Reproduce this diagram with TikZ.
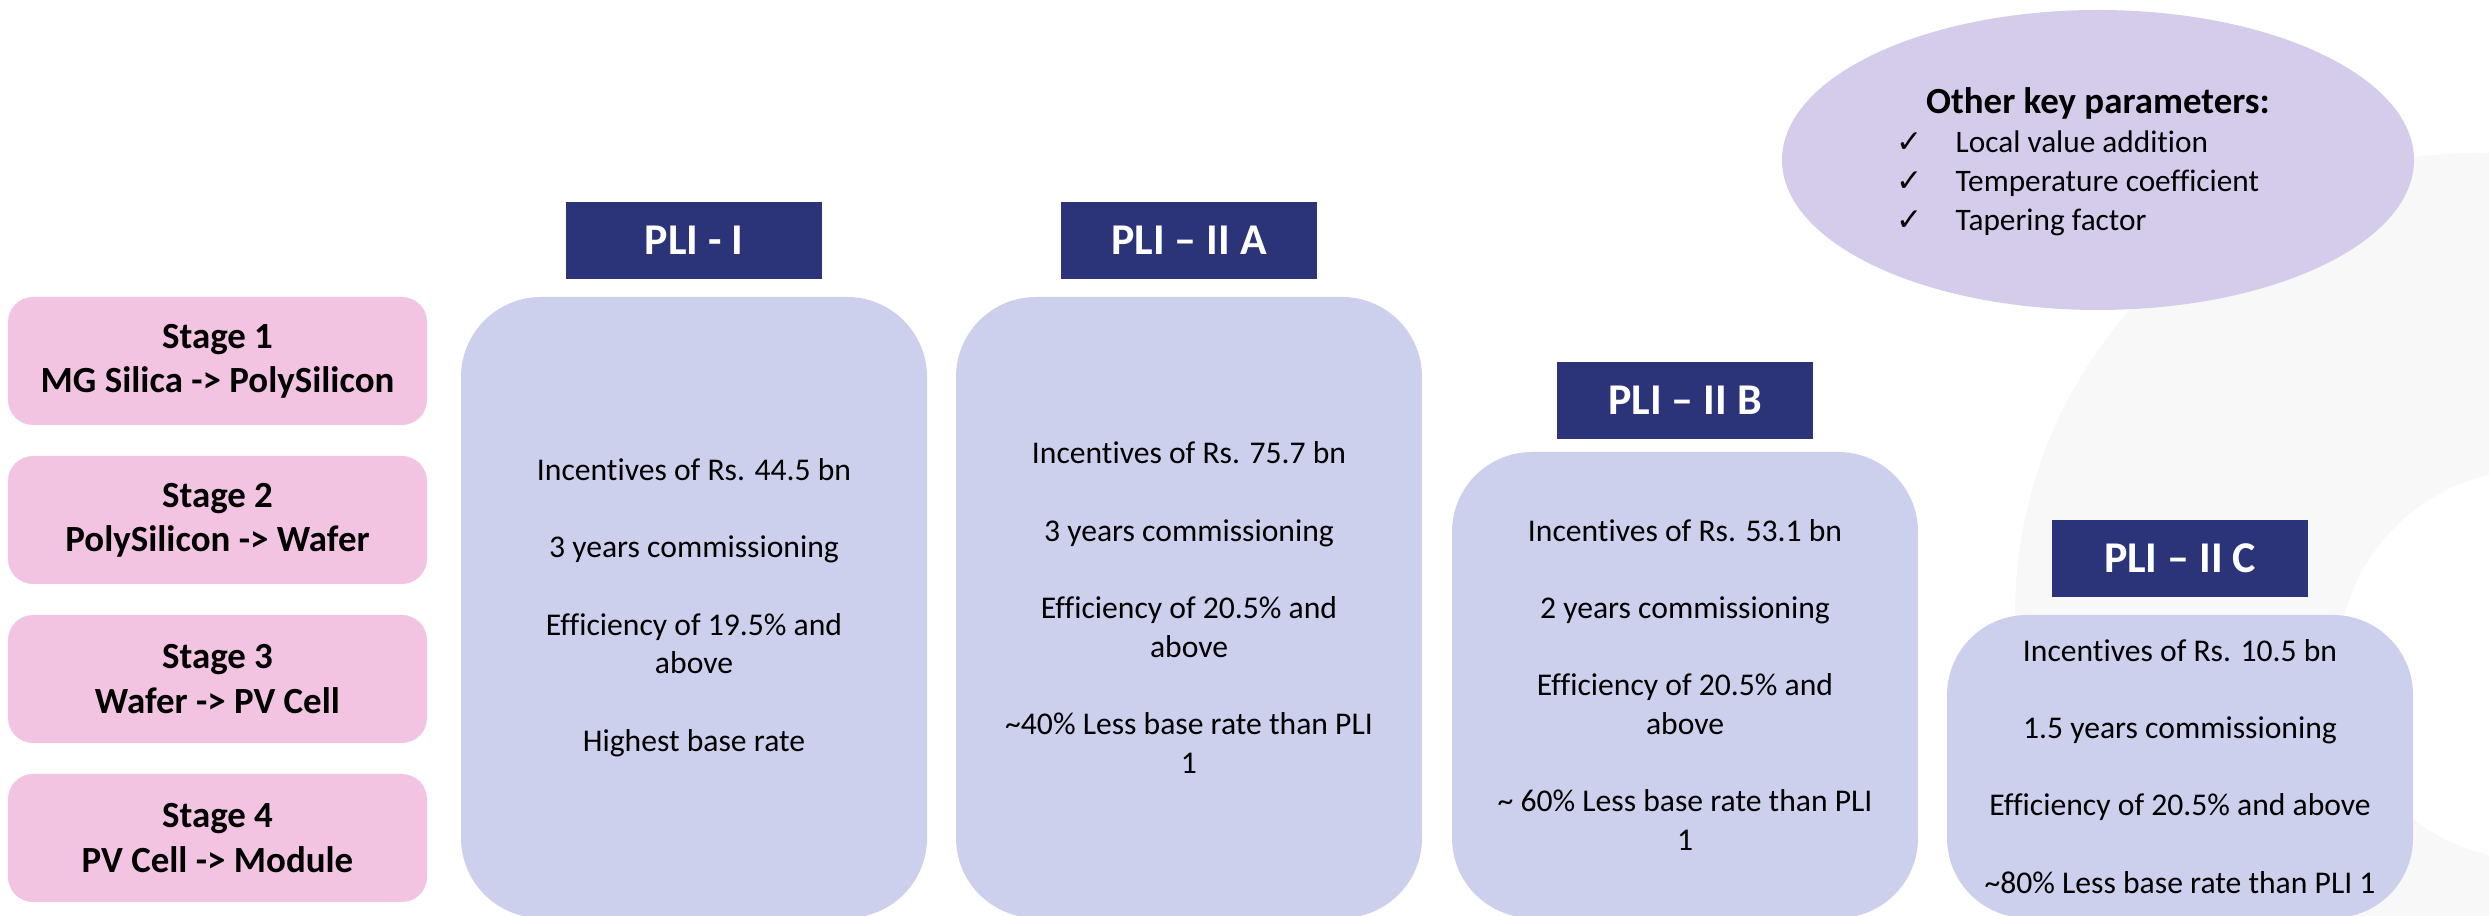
\documentclass[tikz,border=0pt]{standalone}
\usepackage{fontspec}
\setmainfont{Carlito}[Ligatures={TeX,CommonOff}]
\newfontfamily\symfont{DejaVu Sans}
\usepackage{xcolor}
\usetikzlibrary{positioning, shapes.geometric}
\definecolor{stagepink}{RGB}{242,196,226}
\definecolor{plilav}{RGB}{204,208,236}
\definecolor{plinavy}{RGB}{43,52,120}
\definecolor{keylilac}{RGB}{213,204,236}
\definecolor{bgring}{RGB}{248,248,248}
\newcommand{\chk}{\makebox[0.59cm][l]{{\symfont\char"2713}}}
\newcommand{\pgap}{\\[11pt]}

\begin{document}
\begin{tikzpicture}[
    stagebox/.style={fill=stagepink, rounded corners=0.25cm, minimum width=4.19cm,
        minimum height=1.28cm, inner sep=0pt, align=center,
        font=\fontsize{10.5}{12.6}\selectfont\bfseries},
    plibox/.style={fill=plilav, rounded corners=0.8cm, minimum width=4.66cm,
        inner sep=0pt, align=center, font=\fontsize{9}{11}\selectfont},
    plihead/.style={fill=plinavy, text=white, minimum width=2.56cm,
        minimum height=0.77cm, inner sep=0pt,
        font=\fontsize{12.5}{15}\selectfont\bfseries},
]
\useasboundingbox (0,0) rectangle (24.89,9.16);
\clip (0,0) rectangle (24.89,9.16);

% faint ring in the background
\fill[bgring] (24.76,3.02) circle (4.61);
\fill[white] (25.33,2.51) circle (1.95);

% value chain stages
\foreach \i/\txt in {1/{MG Silica -> PolySilicon}, 2/{PolySilicon -> Wafer},
                     3/{Wafer -> PV Cell}, 4/{PV Cell -> Module}}{
    \pgfmathsetmacro{\ypos}{5.55-(\i-1)*1.59}
    \node[stagebox] (stage\i) at (2.175,\ypos) {Stage \i\\\txt};
}

% PLI tranches
\node[plibox, minimum height=6.21cm] (boxI) at (6.94,3.085)
    {Incentives of Rs. 44.5 bn\pgap
     3 years commissioning\pgap
     Efficiency of 19.5\% and\\above\pgap
     Highest base rate};
\node[plihead, above=0.17cm of boxI] (headI) {PLI - I};

\node[plibox, minimum height=6.21cm] (boxIIA) at (11.89,3.085)
    {Incentives of Rs. 75.7 bn\pgap
     3 years commissioning\pgap
     Efficiency of 20.5\% and\\above\pgap
     \textasciitilde40\% Less base rate than PLI\\1};
\node[plihead, above=0.17cm of boxIIA] (headIIA) {PLI -- II A};

\node[plibox, minimum height=4.66cm] (boxIIB) at (16.85,2.31)
    {Incentives of Rs. 53.1 bn\pgap
     2 years commissioning\pgap
     Efficiency of 20.5\% and\\above\pgap
     \textasciitilde{} 60\% Less base rate than PLI\\1};
\node[plihead, above=0.12cm of boxIIB] (headIIB) {PLI -- II B};

\node[plibox, minimum height=3.03cm] (boxIIC) at (21.80,1.495)
    {Incentives of Rs. 10.5 bn\pgap
     1.5 years commissioning\pgap
     Efficiency of 20.5\% and above\pgap
     \textasciitilde80\% Less base rate than PLI 1};
\node[plihead, above=0.17cm of boxIIC] (headIIC) {PLI -- II C};

% other parameters
\node[ellipse, fill=keylilac, minimum width=6.32cm, minimum height=3.0cm,
      inner sep=0pt] (keyell) at (20.98,7.56) {};
\node[font=\fontsize{10.5}{12.6}\selectfont\bfseries] (keyhead) at (20.98,8.13)
    {Other key parameters:};
\node[anchor=north west, align=left, inner sep=0pt,
      font=\fontsize{8.9}{11.1}\selectfont] (keylist) at (18.96,7.86)
    {\chk Local value addition\\
     \chk Temperature coefficient\\
     \chk Tapering factor};
\end{tikzpicture}
\end{document}
